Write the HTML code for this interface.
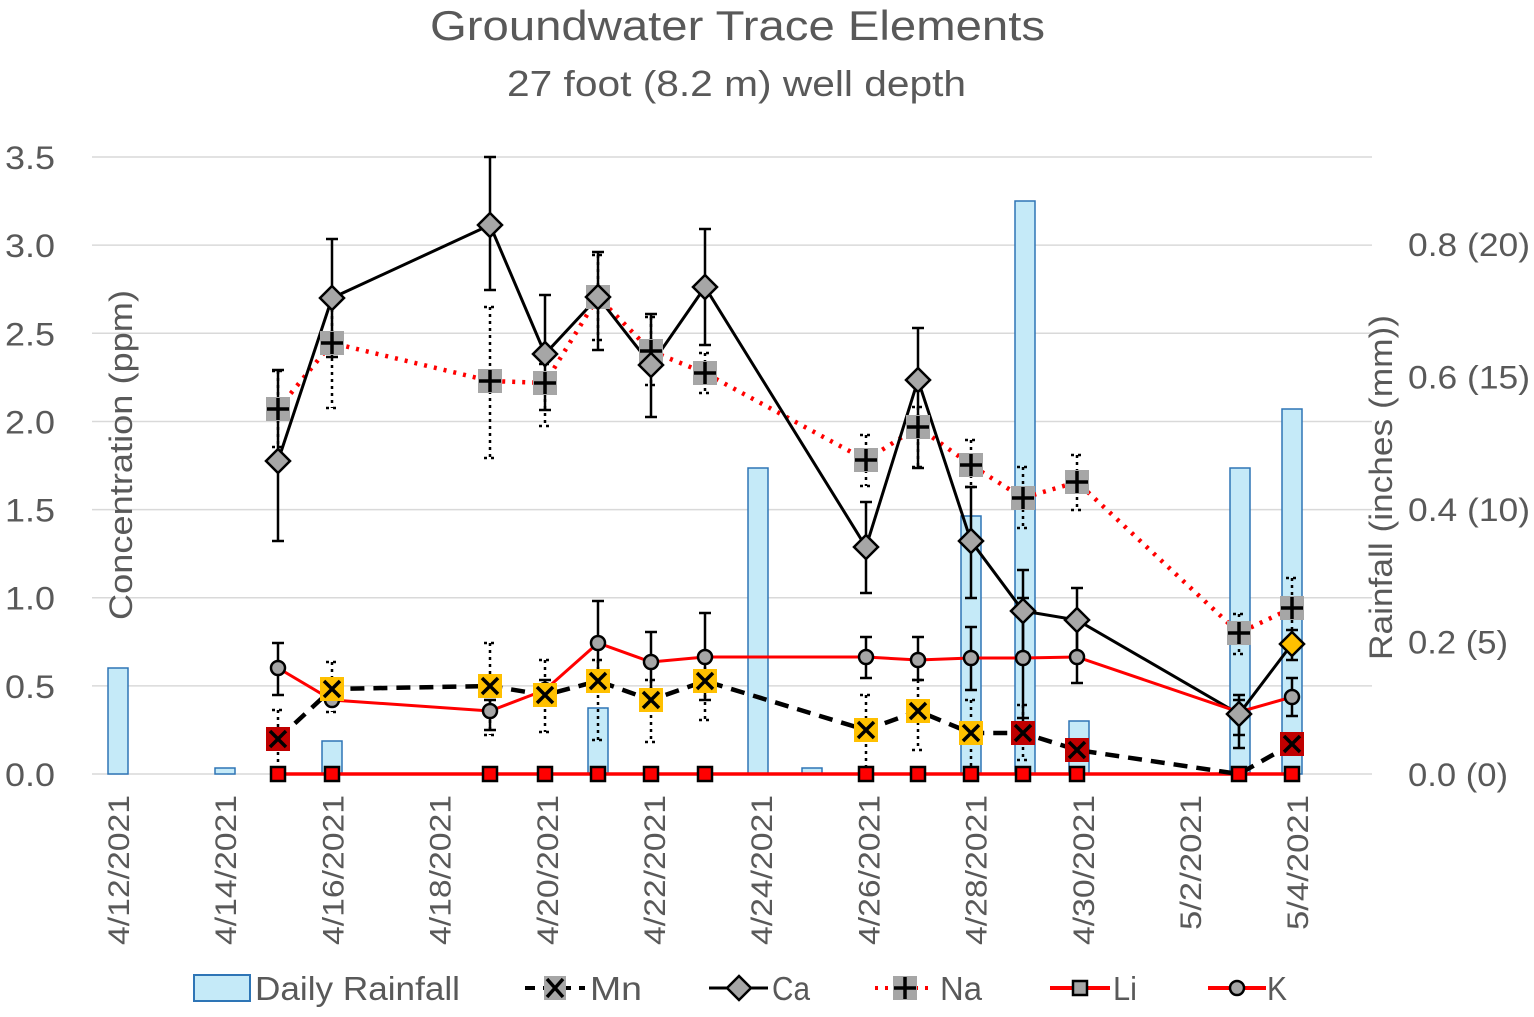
<!DOCTYPE html><html><head><style>body{margin:0;background:#fff}svg{font-family:"Liberation Sans",sans-serif}</style></head><body>
<svg id="s" width="1534" height="1012" xmlns="http://www.w3.org/2000/svg"></svg>
<script>
const s=document.getElementById('s');let h='';
h+='<text x="430" y="40" font-size="42" fill="#595959" textLength="615" lengthAdjust="spacingAndGlyphs">Groundwater Trace Elements</text>';
h+='<text x="507" y="96" font-size="36" fill="#595959" textLength="459" lengthAdjust="spacingAndGlyphs">27 foot (8.2 m) well depth</text>';
for(let i=0;i<=7;i++){const y=774-i*88.14;h+=`<line x1="92" x2="1372" y1="${y}" y2="${y}" stroke="#d9d9d9" stroke-width="1.5"/>`;
h+=`<text x="5" y="${y+12}" font-size="32" fill="#595959" textLength="50" lengthAdjust="spacingAndGlyphs">${(i*0.5).toFixed(1)}</text>`;}
['0.0 (0)','0.2 (5)','0.4 (10)','0.6 (15)','0.8 (20)'].forEach((t,i)=>{h+=`<text x="1408" y="${774-i*132.5+12}" font-size="32" fill="#595959" textLength="${t.length==7?100:122}" lengthAdjust="spacingAndGlyphs">${t}</text>`});
h+='<text transform="translate(132,620) rotate(-90)" font-size="32" fill="#595959" textLength="330" lengthAdjust="spacingAndGlyphs">Concentration (ppm)</text>';
h+='<text transform="translate(1392,660) rotate(-90)" font-size="32" fill="#595959" textLength="345" lengthAdjust="spacingAndGlyphs">Rainfall (inches (mm))</text>';
['4/12/2021','4/14/2021','4/16/2021','4/18/2021','4/20/2021','4/22/2021','4/24/2021','4/26/2021','4/28/2021','4/30/2021','5/2/2021','5/4/2021'].forEach((t,i)=>{const x=118+i*107.2;
h+=`<text transform="translate(${x+11},${t.length==9?945:930}) rotate(-90)" font-size="30" fill="#595959" textLength="${t.length==9?150:135}" lengthAdjust="spacingAndGlyphs">${t}</text>`});
[[118,668],[225,768],[332,741],[598,708],[758,468],[812,768],[971,516],[1025,201],[1079,721],[1240,468],[1292,409]].forEach(([x,t])=>{h+=`<rect x="${x-10}" y="${t}" width="20" height="${774-t}" fill="#c5eaf8" stroke="#2e75b6" stroke-width="1.5"/>`});
const X=[278,332,490,545,598,651,705,866,918,971,1023,1077,1239,1292];
function eb(x,a,b,dash){const d=dash?' stroke-dasharray="3,4"':'';return `<line x1="${x}" x2="${x}" y1="${a}" y2="${b}" stroke="#000" stroke-width="2.5"${d}/><line x1="${x-6}" x2="${x+6}" y1="${a}" y2="${a}" stroke="#000" stroke-width="2.5"${d}/><line x1="${x-6}" x2="${x+6}" y1="${b}" y2="${b}" stroke="#000" stroke-width="2.5"${d}/>`}
function line(ys,c,w,dash){return `<polyline fill="none" stroke="${c}" stroke-width="${w}" ${dash?'stroke-dasharray="'+dash+'"':''} points="${ys.map((y,i)=>X[i]+','+y).join(' ')}"/>`}
h+=line(X.map(()=>774),'#f00',3.5);
const K=[668,700,711,690,643,662,657,657,660,658,658,657,712,697];
const Ke={0:[643,695],4:[601,685],5:[632,692],6:[613,700],7:[637,678],8:[637,680],9:[627,690],10:[598,718],11:[624,683],13:[678,716],2:[700,730],3:[680,700],12:[695,735]};
const M=[739,689,686,695,681,700,681,730,711,733,733,750,774,744];
const Mc=['#c00000','#ffc000','#ffc000','#ffc000','#ffc000','#ffc000','#ffc000','#ffc000','#ffc000','#ffc000','#c00000','#c00000',null,'#c00000'];
const Me={0:[710,770],1:[662,712],2:[643,735],3:[660,732],4:[660,740],5:[680,742],6:[660,720],7:[695,770],8:[680,750],9:[700,770],10:[705,760]};
for(const i in Me)h+=eb(X[i],Me[i][0],Me[i][1],1);
h+=line(M,'#000',4.5,'14,9');
const N=[409,343,381,383,297,351,373,460,427,465,498,482,633,608];
const Ne=[[371,447],[302,408],[307,458],[364,426],[255,340],[317,385],[353,393],[435,486],[407,467],[440,487],[467,528],[455,510],[614,654],[578,640]];
Ne.forEach((e,i)=>h+=eb(X[i],e[0],e[1],1));
h+=line(N,'#f00',4.5,'3,7');
const C=[461,298,225,354,297,365,287,547,380,541,611,620,714,644];
const Ce=[[370,541],[239,357],[157,290],[295,410],[252,350],[314,417],[229,345],[502,593],[328,468],[487,598],[570,653],[588,654],[700,748],[630,660]];
Ce.forEach((e,i)=>h+=eb(X[i],e[0],e[1]));
h+=line(C,'#000',3);
for(const i in Ke)h+=eb(X[i],Ke[i][0],Ke[i][1]);
h+=line(K,'#f00',3);
X.forEach((x,i)=>{h+=`<rect x="${x-7}" y="767" width="14" height="14" fill="#f00" stroke="#000" stroke-width="2.5"/>`});
X.forEach((x,i)=>{h+=`<circle cx="${x}" cy="${K[i]}" r="7" fill="#a6a6a6" stroke="#000" stroke-width="2.5"/>`});
X.forEach((x,i)=>{if(!Mc[i])return;const y=M[i];h+=`<rect x="${x-12}" y="${y-12}" width="24" height="24" fill="${Mc[i]}"/><path d="M${x-8} ${y-8}L${x+8} ${y+8}M${x+8} ${y-8}L${x-8} ${y+8}" stroke="#000" stroke-width="3.5"/>`});
X.forEach((x,i)=>{const y=N[i];h+=`<rect x="${x-12}" y="${y-12}" width="24" height="24" fill="#a6a6a6"/><path d="M${x} ${y-11}V${y+11}M${x-11} ${y}H${x+11}" stroke="#000" stroke-width="3.5"/>`});
X.forEach((x,i)=>{const y=C[i];const f=i==13?'#ffc000':'#a6a6a6';h+=`<path d="M${x} ${y-12}L${x+12} ${y}L${x} ${y+12}L${x-12} ${y}Z" fill="${f}" stroke="#000" stroke-width="2.5"/>`});
const ly=988;
const T=(x,t,w)=>`<text x="${x}" y="${ly+12}" font-size="33" fill="#595959" textLength="${w}" lengthAdjust="spacingAndGlyphs">${t}</text>`;
h+=`<rect x="194" y="${ly-13}" width="56" height="26" fill="#c5eaf8" stroke="#2e75b6" stroke-width="2"/>`+T(255,'Daily Rainfall',205);
h+=`<line x1="525" x2="585" y1="${ly}" y2="${ly}" stroke="#000" stroke-width="4" stroke-dasharray="10,8"/><rect x="544" y="${ly-12}" width="22" height="24" fill="#a6a6a6"/><path d="M547 ${ly-9}L563 ${ly+9}M563 ${ly-9}L547 ${ly+9}" stroke="#000" stroke-width="3.5"/>`+T(590,'Mn',52);
h+=`<line x1="709" x2="768" y1="${ly}" y2="${ly}" stroke="#000" stroke-width="3"/><path d="M739 ${ly-12}L751 ${ly}L739 ${ly+12}L727 ${ly}Z" fill="#a6a6a6" stroke="#000" stroke-width="2.5"/>`+T(772,'Ca',38);
h+=`<line x1="875" x2="935" y1="${ly}" y2="${ly}" stroke="#f00" stroke-width="4" stroke-dasharray="3,7"/><rect x="893" y="${ly-12}" width="24" height="24" fill="#a6a6a6"/><path d="M905 ${ly-11}V${ly+11}M894 ${ly}H916" stroke="#000" stroke-width="3.5"/>`+T(940,'Na',42);
h+=`<line x1="1050" x2="1110" y1="${ly}" y2="${ly}" stroke="#f00" stroke-width="4"/><rect x="1073" y="${ly-7}" width="14" height="14" fill="#a6a6a6" stroke="#000" stroke-width="2.5"/>`+T(1113,'Li',24);
h+=`<line x1="1208" x2="1266" y1="${ly}" y2="${ly}" stroke="#f00" stroke-width="4"/><circle cx="1237" cy="${ly}" r="7" fill="#a6a6a6" stroke="#000" stroke-width="2.5"/>`+T(1267,'K',20);
s.innerHTML=h;
</script></body></html>
